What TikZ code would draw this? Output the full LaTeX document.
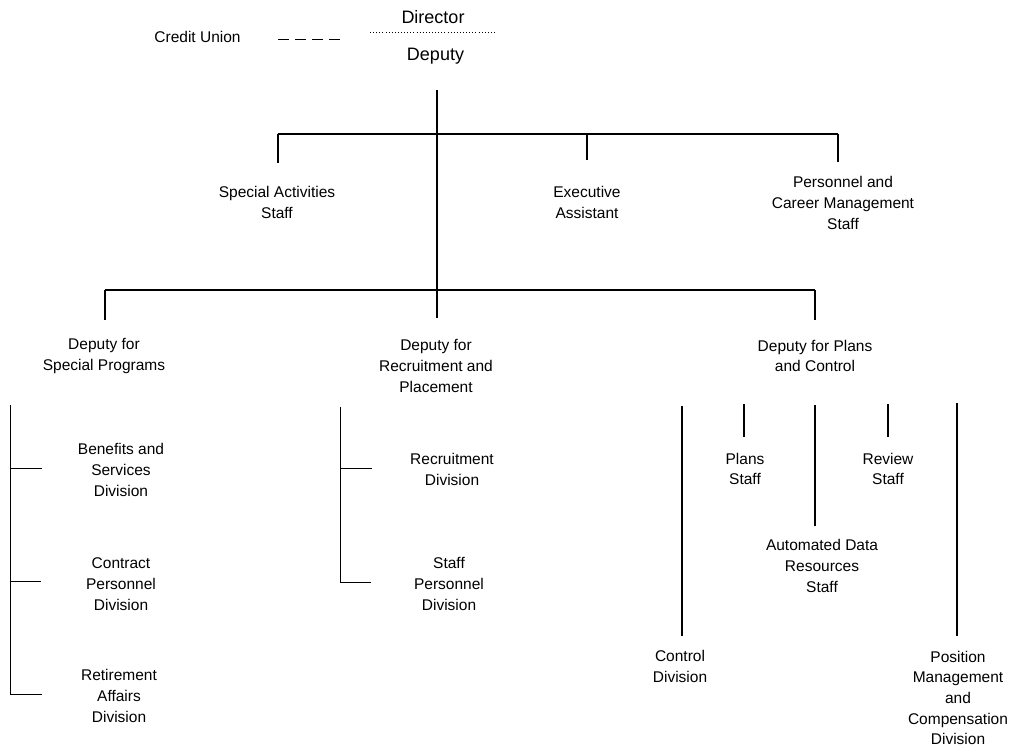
\documentclass[tikz,border=0pt]{standalone}
\usepackage{fontspec}
\setmainfont{Liberation Sans}
\begin{document}
\begin{tikzpicture}[x=1pt,y=-1pt,
  lbl/.style={align=center,inner sep=0pt,font=\fontsize{15.5}{20.7}\selectfont},
  big/.style={inner sep=0pt,font=\fontsize{18}{22}\selectfont},
  ln/.style={line width=1.3pt},
  thin/.style={line width=0.8pt}]
\useasboundingbox (0,0) rectangle (1009,750);
% top
\node[big] (dir) at (433,17) {Director};
\node[big] (dep) at (435.5,56) {Deputy};
\node[lbl] (cu) at (197.5,37) {Credit Union};
\coordinate (cuA) at (278,39);
\coordinate (cuB) at (340,39);
\draw[line width=0.8pt,dash pattern=on 11pt off 6pt] (cuA) -- (cuB);
\coordinate (dotA) at (370,32);
\coordinate (dotB) at (497,32);
\draw[line width=0.6pt,dash pattern=on 0.7pt off 2.4pt] (dotA) -- (dotB);
% level 1 staff
\node[lbl] (sas) at (277,202.5) {Special Activities\\Staff};
\node[lbl] (ea) at (587,202.5) {Executive\\Assistant};
\node[lbl] (pcm) at (843,203) {Personnel and\\Career Management\\Staff};
\coordinate (top) at (437,90);
\coordinate (b1L) at (278,134);
\coordinate (b1E) at (587,134);
\coordinate (b1R) at (838,134);
\coordinate (sasT) at (278,163);
\coordinate (eaT) at (587,160);
\coordinate (pcmT) at (838,162);
\draw[ln] (b1L) -- (b1R);
\draw[ln] (b1L) -- (sasT);
\draw[ln] (b1E) -- (eaT);
\draw[ln] (b1R) -- (pcmT);
% level 2 deputies
\node[lbl] (dsp) at (104,356) {Deputy for\\Special Programs};
\node[lbl] (drp) at (436,366) {Deputy for\\Recruitment and\\Placement};
\node[lbl] (dpc) at (815,356) {Deputy for Plans\\and Control};
\coordinate (b2L) at (105,290);
\coordinate (b2R) at (815,290);
\coordinate (dspT) at (105,320);
\coordinate (drpT) at (437,318);
\coordinate (dpcT) at (815,320);
\draw[ln] (top) -- (drpT);
\draw[ln] (b2L) -- (b2R);
\draw[ln] (b2L) -- (dspT);
\draw[ln] (b2R) -- (dpcT);
% special programs divisions
\node[lbl] (bsd) at (121,470) {Benefits and\\Services\\Division};
\node[lbl] (cpd) at (121,584) {Contract\\Personnel\\Division};
\node[lbl] (rad) at (119,696) {Retirement\\Affairs\\Division};
\coordinate (spT) at (10,405);
\coordinate (sp1) at (10,468);
\coordinate (sp2) at (10,581);
\coordinate (sp3) at (10,694);
\coordinate (sp1e) at (42,468);
\coordinate (sp2e) at (41,581);
\coordinate (sp3e) at (42,694);
\draw[thin] (spT) -- (sp3) -- (sp3e);
\draw[thin] (sp1) -- (sp1e);
\draw[thin] (sp2) -- (sp2e);
% recruitment divisions
\node[lbl] (rd) at (452,469.5) {Recruitment\\Division};
\node[lbl] (spd) at (449,584) {Staff\\Personnel\\Division};
\coordinate (rpT) at (340,407);
\coordinate (rp1) at (340,468);
\coordinate (rp2) at (340,582);
\coordinate (rp1e) at (372,468);
\coordinate (rp2e) at (371,582);
\draw[thin] (rpT) -- (rp2) -- (rp2e);
\draw[thin] (rp1) -- (rp1e);
% plans and control units
\node[lbl] (cd) at (680,666.5) {Control\\Division};
\node[lbl] (ps) at (745,469) {Plans\\Staff};
\node[lbl] (ads) at (822,566) {Automated Data\\Resources\\Staff};
\node[lbl] (rs) at (888,469) {Review\\Staff};
\node[lbl] (pmc) at (958,698) {Position\\Management\\and\\Compensation\\Division};
\coordinate (cdT) at (682,406);
\coordinate (cdB) at (682,636);
\coordinate (psT) at (744,404);
\coordinate (psB) at (744,437);
\coordinate (adsT) at (815,405);
\coordinate (adsB) at (815,526);
\coordinate (rsT) at (888,404);
\coordinate (rsB) at (888,437);
\coordinate (pmcT) at (957,403);
\coordinate (pmcB) at (957,636);
\draw[ln] (cdT) -- (cdB);
\draw[ln] (psT) -- (psB);
\draw[ln] (adsT) -- (adsB);
\draw[ln] (rsT) -- (rsB);
\draw[ln] (pmcT) -- (pmcB);
\end{tikzpicture}
\end{document}
